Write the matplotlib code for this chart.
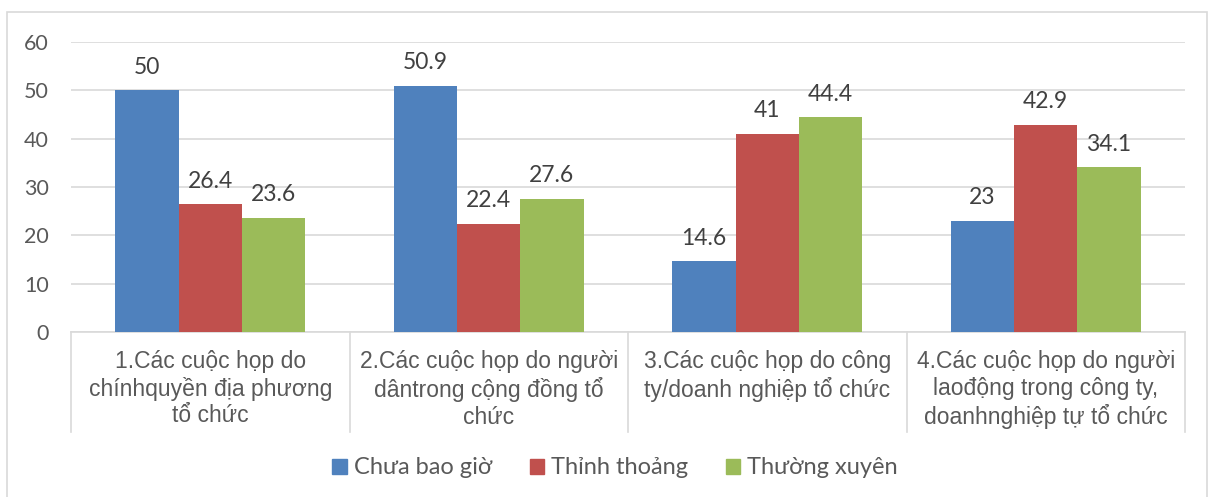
import matplotlib
matplotlib.use("Agg")
import matplotlib.pyplot as plt
from matplotlib.patches import Rectangle
import numpy as np

categories = [
    "1.Các cuộc họp do\nchínhquyền địa phương\ntổ chức",
    "2.Các cuộc họp do người\ndântrong cộng đồng tổ\nchức",
    "3.Các cuộc họp do công\nty/doanh nghiệp tổ chức",
    "4.Các cuộc họp do người\nlaođộng trong công ty,\ndoanhnghiệp tự tổ chức",
]
series_names = ["Chưa bao giờ", "Thỉnh thoảng", "Thường xuyên"]
chua_bao_gio = [50, 50.9, 14.6, 23]
thinh_thoang = [26.4, 22.4, 41, 42.9]
thuong_xuyen = [23.6, 27.6, 44.4, 34.1]
yticks = [0, 10, 20, 30, 40, 50, 60]

colors = ["#4F81BD", "#C0504D", "#9BBB59"]
font = ["Lato", "DejaVu Sans"]
catfont = ["Liberation Sans", "DejaVu Sans"]
txt = "#404040"

W, H = 1217, 497
fig = plt.figure(figsize=(W / 100, H / 100), dpi=100)
fig.patches.append(Rectangle((7 / W, -0.02), 1200 / W, 1 - 12 / H + 0.02,
                             transform=fig.transFigure, fill=False,
                             edgecolor="#d9d9d9", linewidth=1.2))

left, right, top, bottom = 71, 1185, 42, 332
ax = fig.add_axes([left / W, 1 - bottom / H, (right - left) / W, (bottom - top) / H])

n = len(categories)
x = np.arange(n)
bw = 0.227
data = [chua_bao_gio, thinh_thoang, thuong_xuyen]
for i, (vals, c, name) in enumerate(zip(data, colors, series_names)):
    bars = ax.bar(x + (i - 1) * bw, vals, width=bw, color=c, label=name, zorder=3)
    for b, v in zip(bars, vals):
        ax.annotate(f"{v:g}", (b.get_x() + b.get_width() / 2, v),
                    xytext=(0, 9), textcoords="offset points",
                    ha="center", va="bottom", fontsize=16.5, color=txt, family=font)

ax.set_xlim(-0.5, n - 0.5)
ax.set_ylim(0, 60)
ax.set_yticks(yticks)
ax.set_yticklabels([str(t) for t in yticks], fontsize=15.5, color="#595959", family=font)
ax.tick_params(axis="y", length=0, pad=16)
ax.set_xticks([])
ax.grid(axis="y", color="#d9d9d9", linewidth=1.2, zorder=0)
for s in ["top", "right", "left"]:
    ax.spines[s].set_visible(False)
ax.spines["bottom"].set_color("#d9d9d9")
ax.spines["bottom"].set_linewidth(1.2)

# category separators
sep_bottom = -(432 - bottom) / (bottom - top)
for b in np.arange(n + 1) - 0.5:
    ax.plot([b, b], [0, sep_bottom], transform=ax.get_xaxis_transform(),
            color="#d9d9d9", linewidth=1.2, clip_on=False)

lab_top = -(350 - bottom) / (bottom - top)
for xi, lab in zip(x, categories):
    ax.text(xi, lab_top, lab, transform=ax.get_xaxis_transform(), ha="center", va="top",
            fontsize=16.5, color="#595959", family=catfont, linespacing=1.2)

handles = [Rectangle((0, 0), 1, 1, color=c) for c in colors]
fig.legend(handles, series_names, loc="center", bbox_to_anchor=(615 / W, 1 - 468 / H),
           ncol=3, frameon=False, prop={"family": font, "size": 17},
           labelcolor="#595959", handlelength=0.6, handleheight=0.6, handletextpad=0.3,
           columnspacing=1.6)

fig.savefig("out.png", dpi=100)
